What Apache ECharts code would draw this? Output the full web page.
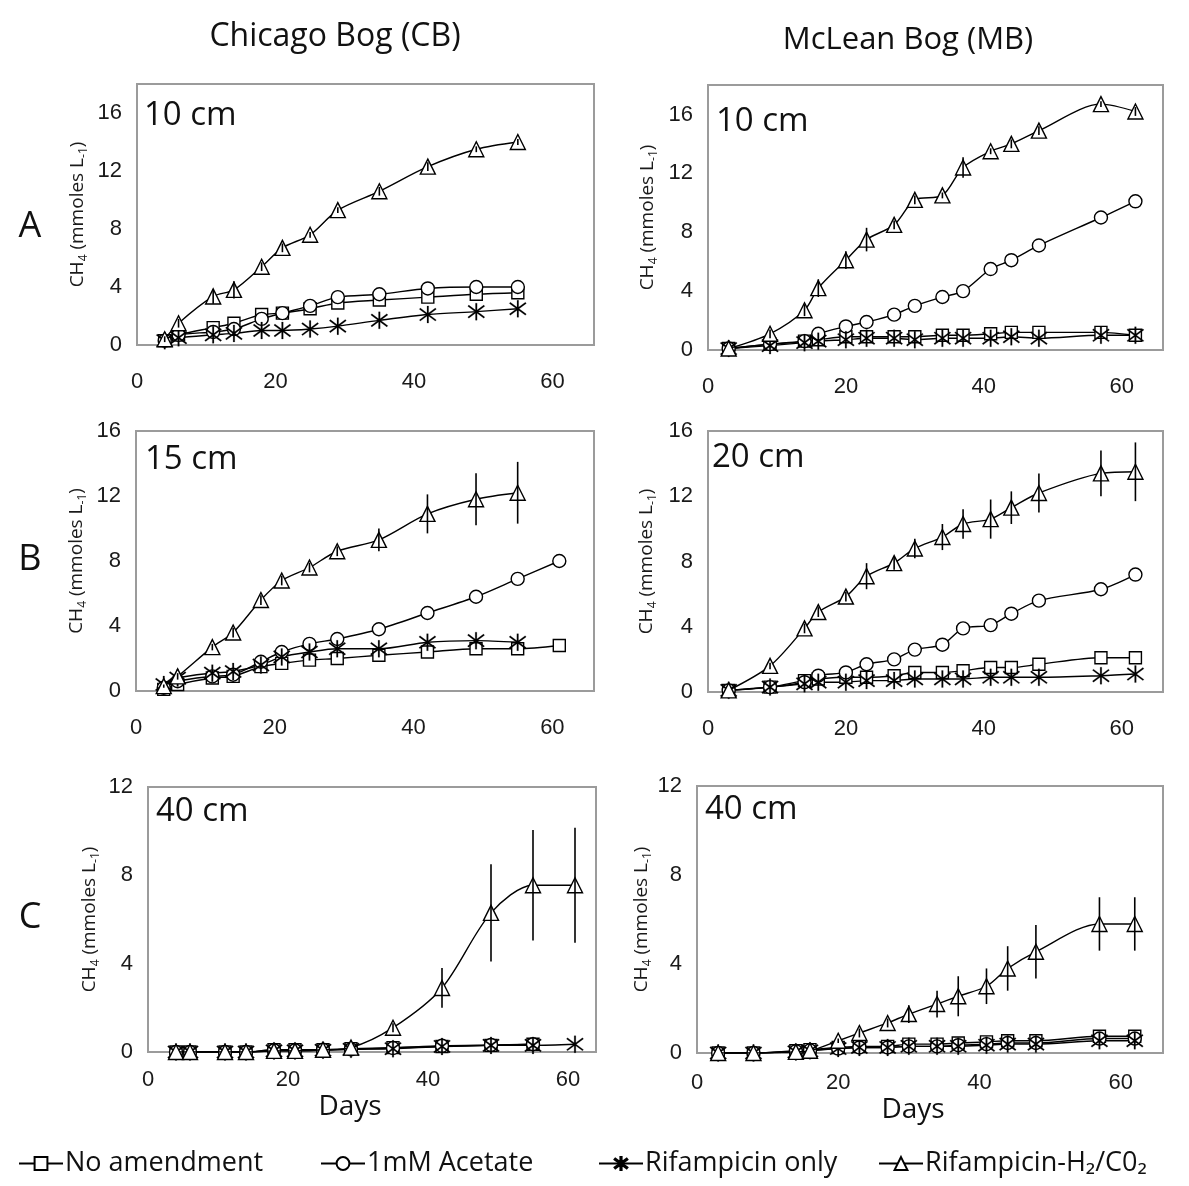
<!DOCTYPE html>
<html><head><meta charset="utf-8">
<script src="https://cdn.jsdelivr.net/npm/echarts@6/dist/echarts.min.js"></script>
<style>html,body{margin:0;padding:0;background:#fff}#c{width:1189px;height:1186px}</style>
</head><body><div id="c"></div>
<script>
// ---------- DATA ----------
const seriesNames = ['No amendment', '1mM Acetate', 'Rifampicin only', 'Rifampicin-H\u2082/C0\u2082'];
const xTicks = [0, 20, 40, 60];

// Chicago Bog 10 cm
const cb10Days     = [4, 6, 11, 14, 18, 21, 25, 29, 35, 42, 49, 55];
const cb10None     = [0.3, 0.7, 1.2, 1.5, 2.1, 2.2, 2.5, 2.9, 3.1, 3.3, 3.5, 3.6];
const cb10Acetate  = [0.3, 0.7, 0.9, 1.1, 1.8, 2.2, 2.7, 3.3, 3.5, 3.9, 4.0, 4.0];
const cb10Rif      = [0.3, 0.5, 0.7, 0.8, 1.0, 1.0, 1.1, 1.3, 1.7, 2.1, 2.3, 2.5];
const cb10RifH2    = [0.4, 1.5, 3.35, 3.8, 5.4, 6.7, 7.6, 9.3, 10.6, 12.3, 13.5, 14.0];
const cb10RifH2Err = [0.2, 0.3, 0.5, 0.6, 0.3, 0.3, 0.2, 0.2, 0.3, 0.3, 0.2, 0.2];

// Chicago Bog 15 cm
const cb15Days     = [4, 6, 11, 14, 18, 21, 25, 29, 35, 42, 49, 55, 61];
const cb15None     = [0.1, 0.4, 0.8, 0.9, 1.5, 1.7, 1.9, 2.0, 2.2, 2.4, 2.6, 2.6, 2.8];
const cb15Acetate  = [0.2, 0.6, 0.9, 1.0, 1.8, 2.4, 2.9, 3.2, 3.8, 4.8, 5.8, 6.9, 8.0];
const cb15Rif      = [0.4, 0.8, 1.1, 1.2, 1.6, 2.1, 2.4, 2.6, 2.6, 3.0, 3.1, 3.0, null];
const cb15RifH2    = [0.3, 0.9, 2.7, 3.6, 5.6, 6.8, 7.6, 8.6, 9.3, 10.9, 11.8, 12.2, null];
const cb15RifH2Err = [0.1, 0.2, 0.2, 0.3, 0.3, 0.3, 0.3, 0.3, 0.7, 1.2, 1.6, 1.9, null];

// Chicago Bog 40 cm
const cb40Days     = [4, 6, 11, 14, 18, 21, 25, 29, 35, 42, 49, 55, 61];
const cb40None     = [0, 0, 0, 0, 0.1, 0.1, 0.1, 0.15, 0.2, 0.25, 0.3, 0.35, null];
const cb40Acetate  = [0, 0, 0, 0, 0.08, 0.08, 0.1, 0.12, 0.18, 0.28, 0.32, 0.35, null];
const cb40Rif      = [0, 0, 0, 0, 0.05, 0.05, 0.08, 0.12, 0.15, 0.25, 0.3, 0.3, 0.35];
const cb40RifH2    = [0, 0, 0, 0, 0.05, 0.05, 0.1, 0.2, 1.1, 2.9, 6.3, 7.55, 7.55];
const cb40RifH2Err = [0, 0, 0, 0, 0, 0, 0, 0, 0.2, 0.9, 2.2, 2.5, 2.6];

// McLean Bog 10 cm
const mb10Days     = [3, 9, 14, 16, 20, 23, 27, 30, 34, 37, 41, 44, 48, 57, 62];
const mb10None     = [0.1, 0.4, 0.6, 0.7, 0.9, 0.9, 0.9, 0.9, 1.0, 1.0, 1.1, 1.2, 1.2, 1.2, 1.0];
const mb10Acetate  = [0.1, 0.4, 0.6, 1.1, 1.6, 1.9, 2.4, 3.0, 3.6, 4.0, 5.5, 6.1, 7.1, 9.0, 10.1];
const mb10Rif      = [0.1, 0.3, 0.5, 0.6, 0.7, 0.8, 0.8, 0.7, 0.8, 0.8, 0.8, 0.9, 0.8, 1.0, 1.0];
const mb10RifH2    = [0.1, 1.1, 2.7, 4.2, 6.1, 7.5, 8.5, 10.2, 10.5, 12.4, 13.5, 14.0, 14.9, 16.7, 16.2];
const mb10RifH2Err = [0, 0.3, 0.4, 0.6, 0.6, 0.8, 0.3, 0.3, 0.2, 0.7, 0.2, 0.3, 0.3, 0.2, 0.3];

// McLean Bog 20 cm
const mb20Days     = [3, 9, 14, 16, 20, 23, 27, 30, 34, 37, 41, 44, 48, 57, 62];
const mb20None     = [0.1, 0.3, 0.7, 0.8, 0.9, 0.9, 1.0, 1.2, 1.2, 1.3, 1.5, 1.5, 1.7, 2.1, 2.1];
const mb20Acetate  = [0.1, 0.3, 0.6, 1.0, 1.2, 1.7, 2.0, 2.6, 2.9, 3.9, 4.1, 4.8, 5.6, 6.3, 7.2];
const mb20Rif      = [0.1, 0.3, 0.5, 0.6, 0.6, 0.7, 0.7, 0.8, 0.8, 0.8, 0.9, 0.9, 0.9, 1.0, 1.1];
const mb20RifH2    = [0.1, 1.6, 3.9, 4.9, 5.85, 7.1, 7.9, 8.8, 9.5, 10.3, 10.6, 11.3, 12.2, 13.4, 13.5];
const mb20RifH2Err = [0, 0.2, 0.3, 0.3, 0.3, 0.8, 0.4, 0.6, 0.8, 0.9, 1.2, 1.0, 1.2, 1.4, 1.8];

// McLean Bog 40 cm
const mb40Days     = [3, 8, 14, 16, 20, 23, 27, 30, 34, 37, 41, 44, 48, 57, 62];
const mb40None     = [0, 0, 0.1, 0.15, 0.25, 0.3, 0.3, 0.4, 0.4, 0.45, 0.5, 0.55, 0.55, 0.75, 0.75];
const mb40Acetate  = [0, 0, 0.08, 0.12, 0.2, 0.25, 0.25, 0.3, 0.3, 0.35, 0.4, 0.45, 0.45, 0.65, 0.65];
const mb40Rif      = [0, 0, 0.05, 0.1, 0.2, 0.25, 0.25, 0.3, 0.3, 0.3, 0.35, 0.4, 0.4, 0.55, 0.55];
const mb40RifH2    = [0, 0, 0.05, 0.1, 0.55, 0.9, 1.35, 1.75, 2.2, 2.55, 3.0, 3.8, 4.55, 5.8, 5.8];
const mb40RifH2Err = [0, 0, 0, 0, 0.1, 0.2, 0.2, 0.4, 0.6, 0.9, 0.8, 1.0, 1.2, 1.2, 1.2];

// ---------- LAYOUT ----------
const panels = [
  {days: cb10Days, vals: [cb10None, cb10Acetate, cb10Rif, cb10RifH2], err: cb10RifH2Err,
   grid: {left: 137, top: 84, width: 457, height: 261}, xMax: 66, yMax: 18, nameGap: 47, xMargin: 26,
   label: '10 cm', lx: 144, ly: 116},
  {days: mb10Days, vals: [mb10None, mb10Acetate, mb10Rif, mb10RifH2], err: mb10RifH2Err,
   grid: {left: 708, top: 85, width: 455, height: 265}, xMax: 66, yMax: 18, nameGap: 48, xMargin: 26,
   label: '10 cm', lx: 716, ly: 122},
  {days: cb15Days, vals: [cb15None, cb15Acetate, cb15Rif, cb15RifH2], err: cb15RifH2Err,
   grid: {left: 136, top: 431, width: 458, height: 260}, xMax: 66, yMax: 16, nameGap: 47, xMargin: 26,
   label: '15 cm', lx: 145, ly: 460},
  {days: mb20Days, vals: [mb20None, mb20Acetate, mb20Rif, mb20RifH2], err: mb20RifH2Err,
   grid: {left: 708, top: 431, width: 455, height: 261}, xMax: 66, yMax: 16, nameGap: 49, xMargin: 26,
   label: '20 cm', lx: 712, ly: 458},
  {days: cb40Days, vals: [cb40None, cb40Acetate, cb40Rif, cb40RifH2], err: cb40RifH2Err,
   grid: {left: 148, top: 787, width: 448, height: 265}, xMax: 64, yMax: 12, nameGap: 46, xMargin: 17,
   label: '40 cm', lx: 156, ly: 812},
  {days: mb40Days, vals: [mb40None, mb40Acetate, mb40Rif, mb40RifH2], err: mb40RifH2Err,
   grid: {left: 697, top: 786, width: 466, height: 267}, xMax: 66, yMax: 12, nameGap: 39, xMargin: 19,
   label: '40 cm', lx: 705, ly: 810}
];

const ASTERISK = 'path://M-0.9,-10L0.9,-10L0.9,10L-0.9,10Z' +
  'M-9.55,-6.3L-8.45,-7.7L9.55,6.3L8.45,7.7Z' +
  'M-8.45,7.7L-9.55,6.3L8.45,-7.7L9.55,-6.3Z';
const symbols = ['rect', 'circle', ASTERISK, 'triangle'];
const symbolSizes = [12, 13, 17, 15];
const hollow = {color: '#fff', borderColor: '#000', borderWidth: 1.4};
const solid = {color: '#000', borderColor: '#000', borderWidth: 0.2};

const tickFont = 'Liberation Sans';
const textFont = 'Open Sans';

const grids = [], xAxes = [], yAxes = [], series = [], graphics = [];
panels.forEach((p, i) => {
  grids.push(Object.assign({show: true, borderColor: '#9b9b9b', borderWidth: 2, backgroundColor: '#fff'}, p.grid));
  xAxes.push({
    gridIndex: i, type: 'value', min: 0, max: p.xMax, interval: 20,
    axisLine: {show: false}, axisTick: {show: false}, splitLine: {show: false},
    axisLabel: {margin: p.xMargin, fontSize: 22, fontFamily: tickFont, color: '#1a1a1a', showMaxLabel: false,
      formatter: v => xTicks.indexOf(v) >= 0 ? String(v) : ''}
  });
  yAxes.push({
    gridIndex: i, type: 'value', min: 0, max: p.yMax, interval: 4,
    axisLine: {show: false}, axisTick: {show: false}, splitLine: {show: false},
    axisLabel: {margin: 15, fontSize: 22, fontFamily: tickFont, color: '#1a1a1a', showMaxLabel: p.yMax % 4 === 0,
      formatter: v => (v % 4 === 0 && v <= 16) ? String(v) : ''},
    name: '{a|CH}{s|4}{a| (mmoles L}{s|-1}{a|)}',
    nameLocation: 'middle', nameGap: p.nameGap, nameRotate: 90,
    nameTextStyle: {
      rich: {
        a: {fontSize: 19, fontFamily: textFont, color: '#1a1a1a', lineHeight: 24, verticalAlign: 'middle'},
        s: {fontSize: 12, fontFamily: textFont, color: '#1a1a1a', lineHeight: 13, verticalAlign: 'bottom'}
      }
    }
  });
  p.vals.forEach((arr, k) => {
    series.push({
      name: seriesNames[k], type: 'line', xAxisIndex: i, yAxisIndex: i,
      data: p.days.map((d, j) => [d, arr[j]]).filter(pt => pt[1] !== null && pt[1] !== undefined),
      smooth: 0.3, symbol: symbols[k], symbolSize: symbolSizes[k], showSymbol: true,
      lineStyle: {color: '#000', width: 1.4},
      itemStyle: k === 2 ? solid : hollow,
      z: 2 + (k === 3 ? 0.5 : 0),
      animation: false, emphasis: {disabled: true}
    });
  });
  const tri = p.vals[3];
  series.push({
    type: 'custom', xAxisIndex: i, yAxisIndex: i, z: 4,
    data: p.days.map((d, j) => [d, tri[j], p.err[j]]).filter(pt => pt[1] !== null && pt[2]),
    encode: {x: 0, y: 1},
    renderItem: (params, api) => {
      const x = api.value(0), v = api.value(1), e = api.value(2);
      const a = api.coord([x, v - e]), b = api.coord([x, v + e]);
      return {type: 'line', shape: {x1: a[0], y1: a[1], x2: b[0], y2: b[1]},
        style: {stroke: '#000', lineWidth: 1.6}};
    },
    animation: false, silent: true
  });
  graphics.push({type: 'text', x: p.lx, y: p.ly,
    style: {text: p.label, fontSize: 33, fontFamily: textFont, fill: '#111', align: 'left', verticalAlign: 'middle'}});
});

const headText = (t, x, y, size) => ({type: 'text', x: x, y: y,
  style: {text: t, fontSize: size, fontFamily: textFont, fill: '#111', align: 'center', verticalAlign: 'middle'}});
graphics.push(headText('Chicago Bog (CB)', 335, 37, 32));
graphics.push(headText('McLean Bog (MB)', 908, 40, 31));
graphics.push(headText('A', 30, 227, 36));
graphics.push(headText('B', 30, 560, 36));
graphics.push(headText('C', 30, 918, 36));
graphics.push(headText('Days', 350, 1107, 28));
graphics.push(headText('Days', 913, 1110, 28));

const legendLefts = [18, 320, 598, 878];
const legends = seriesNames.map((n, k) => ({
  data: [n], left: legendLefts[k], top: 1150, padding: 0,
  itemWidth: 44, itemHeight: 16, itemGap: 0, selectedMode: false,
  textStyle: {fontSize: 27, fontFamily: textFont, color: '#111', padding: [0, 0, 0, -3]}
}));

const chart = echarts.init(document.getElementById('c'));
chart.setOption({
  animation: false,
  backgroundColor: '#fff',
  grid: grids, xAxis: xAxes, yAxis: yAxes, series: series,
  legend: legends,
  graphic: graphics
});
</script></body></html>
